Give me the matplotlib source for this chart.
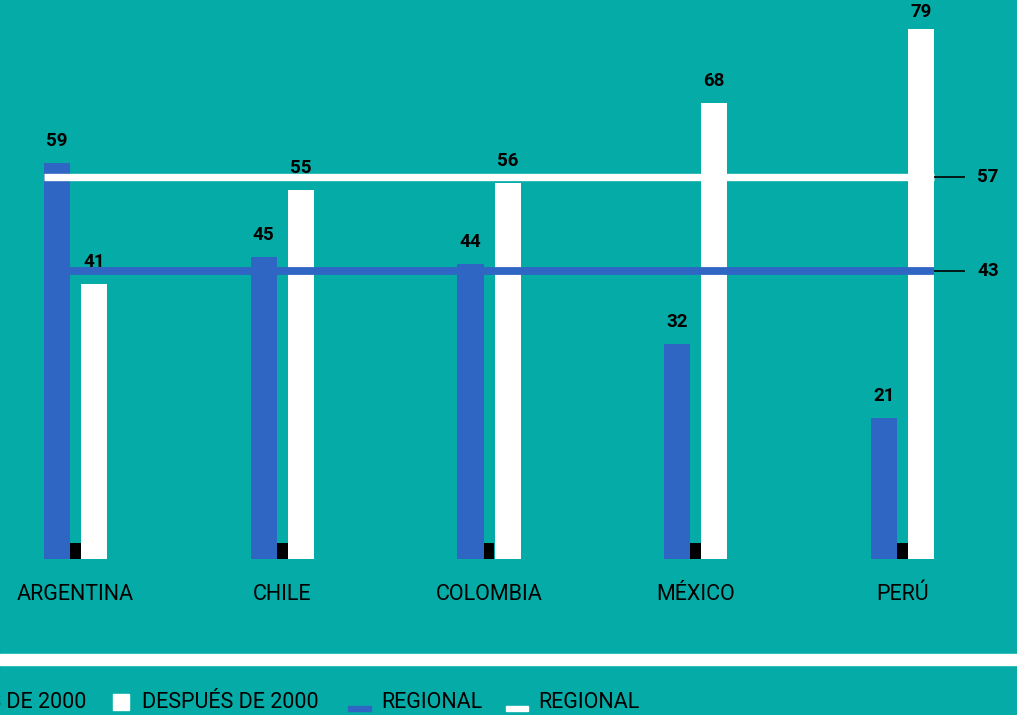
import matplotlib
matplotlib.use('Agg')
import matplotlib.pyplot as plt
from matplotlib.patches import Rectangle
import numpy as np

# data
paises = ["ARGENTINA", "CHILE", "COLOMBIA", "MÉXICO", "PERÚ"]
antes_2000 = [59, 45, 44, 32, 21]
despues_2000 = [41, 55, 56, 68, 79]
regional_antes = 43
regional_despues = 57
legend_labels = ["ANTES DE 2000", "DESPUÉS DE 2000", "REGIONAL", "REGIONAL"]

TEAL = '#05aca7'
BLUE = '#2f66c4'
WHITE = '#ffffff'

plt.rcParams['font.family'] = ['Roboto', 'DejaVu Sans']

W, H = 1017, 715
PX_PER_UNIT = 6.709   # y scale, baseline sits at y=559 px
BASE_PX = 559

fig = plt.figure(figsize=(W / 100, H / 100), dpi=100)
fig.patch.set_facecolor(TEAL)

ax = fig.add_axes([0, (H - BASE_PX) / H, 1, 80 * PX_PER_UNIT / H])
ax.set_facecolor(TEAL)
ax.set_ylim(0, 80)
ax.set_xlim(-0.3652, 4.5538)
for s in ax.spines.values():
    s.set_visible(False)
ax.set_yticks([])

x = np.arange(len(paises))
bw = 0.1258
off = 0.0895
ax.bar(x - off, antes_2000, width=bw, color=BLUE, zorder=2)
ax.bar(x + off, despues_2000, width=bw, color=WHITE, zorder=2)
# little black square between each pair of bars
ax.bar(x, 2.4, width=0.053, color='black', zorder=2)


def value_label(xi, v):
    # keep the label inside the picture when the bar is very tall
    top_px = BASE_PX - v * PX_PER_UNIT
    gap_px = min(13, top_px - 21)
    ax.annotate(str(v), (xi, v), xytext=(0, gap_px * 0.72), textcoords='offset points',
                ha='center', va='bottom', fontsize=13.5, fontweight='bold')


for xi, v in zip(x - off, antes_2000):
    value_label(xi, v)
for xi, v in zip(x + off, despues_2000):
    value_label(xi, v)

# regional averages
x0 = x[0] - off - bw / 2
x1 = x[-1] + off + bw / 2
ax.hlines(regional_despues, x0, x1, color=WHITE, lw=5.3, zorder=3)
ax.hlines(regional_antes, x0, x1, color=BLUE, lw=5.6, zorder=3)
for v in (regional_despues, regional_antes):
    ax.hlines(v, x1, x1 + 0.15, color='black', lw=1.2, zorder=3)
    ax.text(x1 + 0.21, v, str(v), ha='left', va='center',
            fontsize=13.5, fontweight='bold')

ax.set_xticks(x, paises)
ax.tick_params(axis='x', length=0, pad=18, labelsize=15.5)

# white separator band
fig.patches.append(Rectangle((0, 1 - 665 / H), 1, 11 / H, transform=fig.transFigure,
                             color=WHITE, zorder=1))

# hand-made legend, first entry runs off the left edge like the original
def fx(px):
    return px / W

def fy(py):
    return 1 - py / H

ty = fy(703)
fig.patches.append(Rectangle((fx(-110), fy(710)), fx(16), 16 / H,
                             transform=fig.transFigure, color=BLUE))
fig.text(fx(86), ty, legend_labels[0], ha='right', va='center', fontsize=15.5)
fig.patches.append(Rectangle((fx(113), fy(710)), fx(16), 16 / H,
                             transform=fig.transFigure, color=WHITE))
fig.text(fx(142), ty, legend_labels[1], ha='left', va='center', fontsize=15.5)
fig.patches.append(Rectangle((fx(348), fy(711)), fx(23), 5 / H,
                             transform=fig.transFigure, color=BLUE))
fig.text(fx(381), ty, legend_labels[2], ha='left', va='center', fontsize=15.5)
fig.patches.append(Rectangle((fx(506), fy(711)), fx(22), 5 / H,
                             transform=fig.transFigure, color=WHITE))
fig.text(fx(538), ty, legend_labels[3], ha='left', va='center', fontsize=15.5)

fig.savefig('out.png', dpi=100, facecolor=TEAL)
